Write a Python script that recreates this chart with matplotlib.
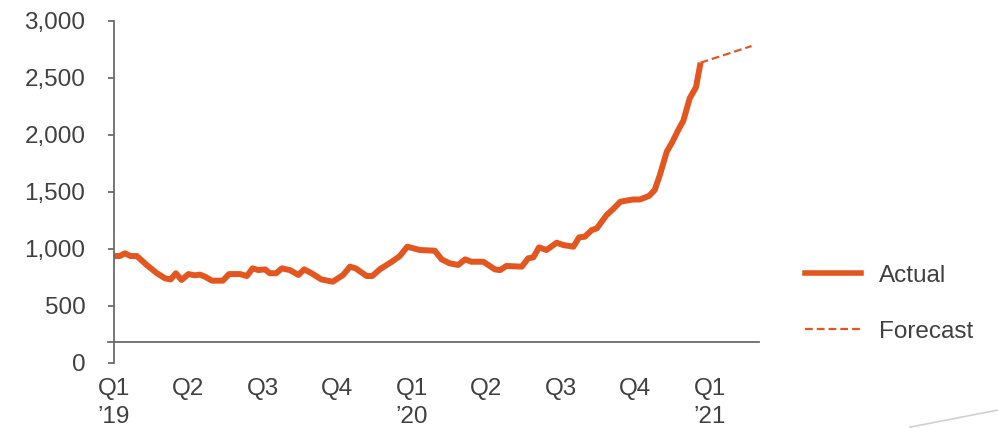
import matplotlib
matplotlib.use("Agg")
import matplotlib.pyplot as plt
from matplotlib.lines import Line2D

plt.rcParams['font.family'] = ['Liberation Sans', 'DejaVu Sans']

# weeks since start of Q1 2019 and the index level
actual_weeks = [0, 1.0, 1.9, 2.9, 4.0, 5.7, 7.5, 8.9, 9.9, 10.8, 11.8, 13.0, 14.1,
                15.0, 15.9, 17.1, 19.0, 20.1, 22.0, 23.2, 24.2, 25.2, 26.4, 27.2,
                28.3, 29.3, 30.7, 32.2, 33.2, 34.5, 36.2, 38.2, 40.0, 41.2, 42.2,
                44.1, 45.1, 46.4, 48.5, 49.9, 51.2, 53.4, 56.0, 57.2, 58.6, 60.1,
                61.3, 62.4, 64.5, 65.6, 66.5, 67.4, 68.5, 71.2, 72.3, 73.2, 74.2,
                75.5, 77.3, 78.4, 80.2, 81.2, 82.2, 83.4, 84.3, 86.0, 87.1, 88.4,
                90.6, 91.8, 93.4, 94.4, 95.3, 96.5, 97.5, 98.5, 99.4, 100.5, 101.6,
                102.4]
actual_values = [938, 938, 962, 938, 938, 860, 787, 743, 733, 787, 728, 780, 769,
                 775, 757, 722, 722, 780, 780, 763, 830, 815, 821, 787,
                 787, 830, 815, 772, 821, 787, 733, 713, 772, 845, 830,
                 763, 763, 821, 888, 938, 1020, 991, 985, 909, 874, 860,
                 909, 888, 888, 851, 821, 815, 851, 845, 918, 926, 1014,
                 991, 1055, 1035, 1020, 1102, 1108, 1166, 1181, 1298, 1348, 1415,
                 1434, 1434, 1465, 1517, 1649, 1853, 1941, 2043, 2125, 2321, 2418,
                 2634]

forecast_weeks = [102.4, 111.3]
forecast_values = [2634, 2780]

tick_weeks = [0, 13, 26, 39, 52, 65, 78, 91, 104]
tick_labels = ["Q1\n\u201919", "Q2", "Q3", "Q4", "Q1\n\u201920", "Q2", "Q3", "Q4",
               "Q1\n\u201921"]
y_ticks = [0, 500, 1000, 1500, 2000, 2500, 3000]

orange = '#E4561F'
grey = '#404040'
axis_grey = '#6b6b6b'
fs = 17.5

fig = plt.figure(figsize=(9.98, 4.28), dpi=100)
ax = fig.add_axes([0.1142, 0.1519, 0.6463, 0.7991])

ax.plot(actual_weeks, actual_values, color=orange, lw=4.3,
        solid_joinstyle='round', solid_capstyle='butt', label='Actual')
ax.plot(forecast_weeks, forecast_values, color=orange, lw=1.6,
        dashes=(3.5, 1.8), label='Forecast')

# category axis drawn above zero, as in the original
ax.plot([-1.05, 112.6], [184, 184], color=axis_grey, lw=1.3, clip_on=False, zorder=1)

ax.set_xlim(0, 112.6)
ax.set_ylim(0, 3000)
ax.set_yticks(y_ticks)
ax.set_yticklabels([f"{v:,}" for v in y_ticks])
ax.set_xticks(tick_weeks)
ax.set_xticklabels(tick_labels, linespacing=1.35)

for s in ['top', 'right', 'bottom']:
    ax.spines[s].set_visible(False)
ax.spines['left'].set_color(axis_grey)
ax.spines['left'].set_linewidth(1.3)

ax.tick_params(axis='y', length=4.5, width=1.3, color=axis_grey, pad=16,
               labelsize=fs, labelcolor=grey)
ax.tick_params(axis='x', length=0, pad=11, labelsize=fs, labelcolor=grey)
for lbl in ax.get_xticklabels():
    lbl.set_horizontalalignment('center')

handles = [Line2D([0], [0], color=orange, lw=4.0),
           Line2D([0], [0], color=orange, lw=1.6, dashes=(3.5, 1.8))]
leg = fig.legend(handles, ['Actual', 'Forecast'], loc='center left',
                 bbox_to_anchor=(0.785, 0.29), frameon=False, fontsize=fs,
                 handlelength=2.3, handletextpad=0.75, labelspacing=1.4)
for t in leg.get_texts():
    t.set_color(grey)

# faint slide shadow at bottom right
fig.add_artist(Line2D([0.912, 1.0], [0.002, 0.042], color='#d0d0d0', lw=1.2,
                      transform=fig.transFigure))

fig.savefig('out.png', dpi=100)
